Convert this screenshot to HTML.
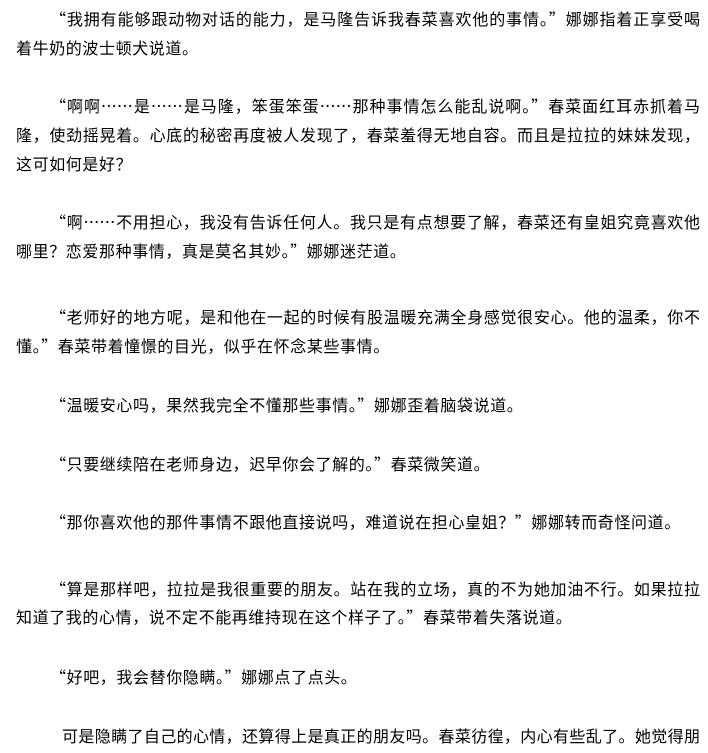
<!DOCTYPE html>
<html><head><meta charset="utf-8"><style>
html,body{margin:0;padding:0;background:#fff;width:708px;height:753px;overflow:hidden;position:relative}
.l{position:absolute;height:29px;line-height:29px;font-family:"Noto Sans CJK SC","WenQuanYi Zen Hei",sans-serif;font-size:16px;letter-spacing:0.6px;color:#000;white-space:nowrap}
.j{text-align:justify;text-align-last:justify;letter-spacing:0}
.i{left:50px}.n{left:16px}
</style></head><body>
<div class="l i j" style="top:4px;width:650px">“我拥有能够跟动物对话的能力，是马隆告诉我春菜喜欢他的事情。”娜娜指着正享受喝</div>
<div class="l n" style="top:33px">着牛奶的波士顿犬说道。</div>
<div class="l i j" style="top:91px;width:650px">“啊啊……是……是马隆，笨蛋笨蛋……那种事情怎么能乱说啊。”春菜面红耳赤抓着马</div>
<div class="l n j" style="top:120px;width:684px">隆，使劲摇晃着。心底的秘密再度被人发现了，春菜羞得无地自容。而且是拉拉的妹妹发现，</div>
<div class="l n" style="top:149px">这可如何是好？</div>
<div class="l i j" style="top:207px;width:650px">“啊……不用担心，我没有告诉任何人。我只是有点想要了解，春菜还有皇姐究竟喜欢他</div>
<div class="l n" style="top:236px">哪里？恋爱那种事情，真是莫名其妙。”娜娜迷茫道。</div>
<div class="l i j" style="top:302px;width:650px">“老师好的地方呢，是和他在一起的时候有股温暖充满全身感觉很安心。他的温柔，你不</div>
<div class="l n" style="top:331px">懂。”春菜带着憧憬的目光，似乎在怀念某些事情。</div>
<div class="l i" style="top:390px">“温暖安心吗，果然我完全不懂那些事情。”娜娜歪着脑袋说道。</div>
<div class="l i" style="top:449px">“只要继续陪在老师身边，迟早你会了解的。”春菜微笑道。</div>
<div class="l i" style="top:507px">“那你喜欢他的那件事情不跟他直接说吗，难道说在担心皇姐？”娜娜转而奇怪问道。</div>
<div class="l i j" style="top:574px;width:650px">“算是那样吧，拉拉是我很重要的朋友。站在我的立场，真的不为她加油不行。如果拉拉</div>
<div class="l n" style="top:602px">知道了我的心情，说不定不能再维持现在这个样子了。”春菜带着失落说道。</div>
<div class="l i" style="top:662px">“好吧，我会替你隐瞒。”娜娜点了点头。</div>
<div class="l j" style="top:721px;left:62px;width:638px">可是隐瞒了自己的心情，还算得上是真正的朋友吗。春菜彷徨，内心有些乱了。她觉得朋</div>
</body></html>
